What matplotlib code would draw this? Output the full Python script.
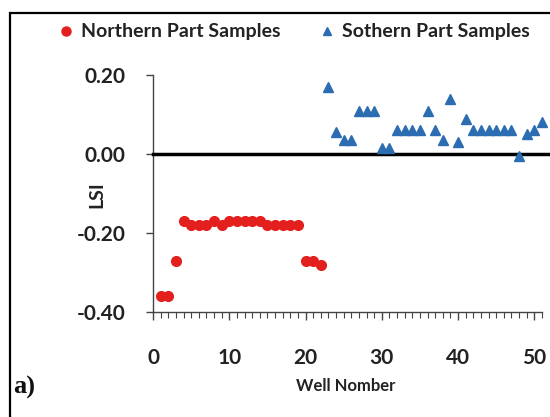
import matplotlib
matplotlib.use("Agg")
import matplotlib.pyplot as plt
from matplotlib.patches import Rectangle
from matplotlib.lines import Line2D
from matplotlib.ticker import MultipleLocator

plt.rcParams['font.family'] = ['Lato', 'DejaVu Sans']

north_x = list(range(1, 23))
north_y = [-0.36, -0.36, -0.27, -0.17, -0.18, -0.18, -0.18, -0.17, -0.18,
           -0.17, -0.17, -0.17, -0.17, -0.17, -0.18, -0.18, -0.18, -0.18,
           -0.18, -0.27, -0.27, -0.28]
south_x = list(range(23, 52))
south_y = [0.17, 0.055, 0.035, 0.035, 0.11, 0.11, 0.11, 0.015, 0.015,
           0.06, 0.06, 0.06, 0.06, 0.11, 0.06, 0.035, 0.14, 0.03, 0.088,
           0.06, 0.06, 0.06, 0.06, 0.06, 0.06, -0.005, 0.05, 0.062, 0.082]
yticks = [-0.40, -0.20, 0.00, 0.20]
xticks = [0, 10, 20, 30, 40, 50]
series_names = ["Northern Part Samples", "Sothern Part Samples"]

W, H = 550, 417
fig = plt.figure(figsize=(5.5, 4.17), dpi=100)
ax = fig.add_axes([153 / W, 1 - 312 / H, (542 - 153) / W, (312 - 75) / H])

red = '#E3201E'
blue = '#2C6DB2'
ax.plot(north_x, north_y, 'o', color=red, markersize=7, clip_on=False, zorder=4)
ax.plot(south_x, south_y, '^', color=blue, markersize=6.5, clip_on=False, zorder=4)

ax.set_xlim(0, 51)
ax.set_ylim(-0.40, 0.20)
ax.plot([0, 52.5], [0, 0], color='black', lw=2.5, clip_on=False, zorder=3)

for s in ['top', 'right']:
    ax.spines[s].set_visible(False)
for s in ['left', 'bottom']:
    ax.spines[s].set_color('#444444')
    ax.spines[s].set_linewidth(1.0)

ax.set_yticks(yticks)
ax.set_yticklabels(['%.2f' % v for v in yticks])
ax.set_xticks(xticks)
ax.xaxis.set_minor_locator(MultipleLocator(1))
ax.tick_params(axis='y', direction='out', length=5, width=1, color='#444444',
               pad=15, labelsize=15)
ax.tick_params(axis='x', which='major', direction='out', length=6, width=1,
               color='#444444', pad=20, labelsize=15)
ax.tick_params(axis='x', which='minor', direction='out', length=4, width=0.8,
               color='#444444')
for lab in ax.get_xticklabels() + ax.get_yticklabels():
    lab.set_fontweight('bold')
    lab.set_color('#222222')

fig.text(97 / W, 1 - 195 / H, 'LSI', rotation=90, ha='center', va='center',
         fontsize=14, fontweight='bold', color='#222222')
fig.text(346 / W, 1 - 386 / H, 'Well Nomber', ha='center', va='center',
         fontsize=12, fontweight='bold', color='#222222')
fig.text(24 / W, 1 - 387 / H, 'a)', ha='center', va='center',
         fontsize=19, fontweight='bold', family='Liberation Serif', color='#111111')

handles = [Line2D([], [], marker='o', ls='', color=red, markersize=6.5),
           Line2D([], [], marker='^', ls='', color=blue, markersize=6)]
fig.legend(handles, series_names, loc='center', bbox_to_anchor=(294 / W, 1 - 32 / H),
           ncol=2, frameon=False, prop={'weight': 'bold', 'size': 14},
           handletextpad=0.35, columnspacing=2.0, handlelength=0.8,
           labelcolor='#222222')

frame = Rectangle((10 / W, -0.1), 1.2, (1 - 13 / H) + 0.1, transform=fig.transFigure,
                  fill=False, edgecolor='black', lw=1.6, clip_on=False)
fig.add_artist(frame)

fig.savefig('out.png', dpi=100)
